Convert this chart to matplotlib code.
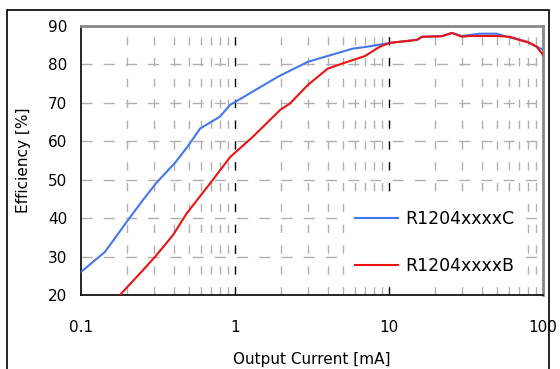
import matplotlib
matplotlib.use("Agg")
import matplotlib.pyplot as plt
from matplotlib.patches import Rectangle
import numpy as np

plt.rcParams['font.family'] = ['DejaVu Sans']

# Series C (blue)
c_x = [0.1, 0.143, 0.202, 0.25, 0.312, 0.408, 0.5, 0.593, 0.797, 0.93, 1.0, 1.39, 1.9,
       2.98, 4.0, 5.8, 7.2, 10.1, 15.2, 16.4, 22, 25.6, 29.7, 38.8, 50, 61, 78, 100]
c_y = [26, 31.2, 39.5, 44.5, 49.4, 54.4, 59.0, 63.3, 66.4, 69.5, 70.2, 73.6, 76.8,
       80.7, 82.2, 84.1, 84.6, 85.6, 86.4, 87.2, 87.4, 88.2, 87.4, 88.0, 88.0, 87.0, 86.0, 83.8]

# Series B (red)
b_x = [0.179, 0.253, 0.302, 0.396, 0.487, 0.688, 0.93, 1.3, 1.97, 2.27, 2.98, 4.0, 4.95,
       7.0, 8.7, 10.1, 15.2, 16.4, 22, 25.6, 29.7, 33.6, 38.8, 50, 61, 70, 82, 91, 100]
b_y = [20, 26.5, 29.9, 35.6, 41.3, 49.0, 55.9, 61.1, 68.2, 69.8, 74.7, 78.9, 80.2,
       82.2, 84.6, 85.6, 86.4, 87.2, 87.3, 88.2, 87.2, 87.4, 87.4, 87.4, 87.2, 86.4, 85.6, 84.6, 82.5]

labels = ["R1204xxxxC", "R1204xxxxB"]
x_ticks = [0.1, 1, 10, 100]
x_ticklabels = ["0.1", "1", "10", "100"]
y_ticks = [20, 30, 40, 50, 60, 70, 80, 90]

W, H = 560, 369
fig = plt.figure(figsize=(W / 100, H / 100), dpi=100)
ax = fig.add_axes([81 / W, 1 - 295 / H, (543 - 81) / W, (295 - 26) / H])
ax.set_xscale('log')
ax.set_xlim(0.1, 100)
ax.set_ylim(20, 90)

# grid
for yv in y_ticks[1:-1]:
    ax.axhline(yv, color='#b0b0b0', lw=1, dashes=(8, 8), zorder=1)
for dec in [0.1, 1, 10]:
    for m in range(2, 10):
        ax.axvline(dec * m, color='#b0b0b0', lw=1, dashes=(6, 9), zorder=1)
for xv in [1, 10]:
    ax.axvline(xv, color='black', lw=1, dashes=(6, 9), zorder=1)

ax.plot(c_x, c_y, color='#4477ee', lw=1.5, label=labels[0], zorder=3)
ax.plot(b_x, b_y, color='#ee1111', lw=1.5, label=labels[1], zorder=3)

ax.set_xticks(x_ticks)
ax.set_xticklabels(x_ticklabels)
ax.xaxis.set_minor_locator(matplotlib.ticker.NullLocator())
ax.set_yticks(y_ticks)
ax.tick_params(axis='both', length=0, labelsize=11)
ax.tick_params(axis='x', pad=18)
ax.tick_params(axis='y', pad=10)

for s in ['left', 'bottom']:
    ax.spines[s].set_color('black')
    ax.spines[s].set_linewidth(1.2)
for s in ['top', 'right']:
    ax.spines[s].set_color('#888888')
    ax.spines[s].set_linewidth(2)

ax.set_xlabel("Output Current [mA]", fontsize=11, labelpad=12)
ax.set_ylabel("Efficiency [%]", fontsize=11, labelpad=12)

lx = (348 - 81) / (543 - 81)
ly = (295 - 203) / (295 - 26)
leg = ax.legend(loc='upper left', bbox_to_anchor=(lx, ly), frameon=True, fontsize=12.5,
                handlelength=2.5, labelspacing=1.65, borderaxespad=0, borderpad=0.4,
                handletextpad=0.4)
leg.get_frame().set_edgecolor('white')
leg.get_frame().set_facecolor('white')
leg.get_frame().set_alpha(1)
leg.get_frame().set_boxstyle('square', pad=0)
leg.set_zorder(2)

fig.patches.append(Rectangle((7 / W, -0.1), (549 - 7) / W, 1 - 10 / H + 0.1,
                             transform=fig.transFigure, fill=False,
                             edgecolor='black', lw=1.2, clip_on=False))

fig.savefig("out.png", dpi=100)
